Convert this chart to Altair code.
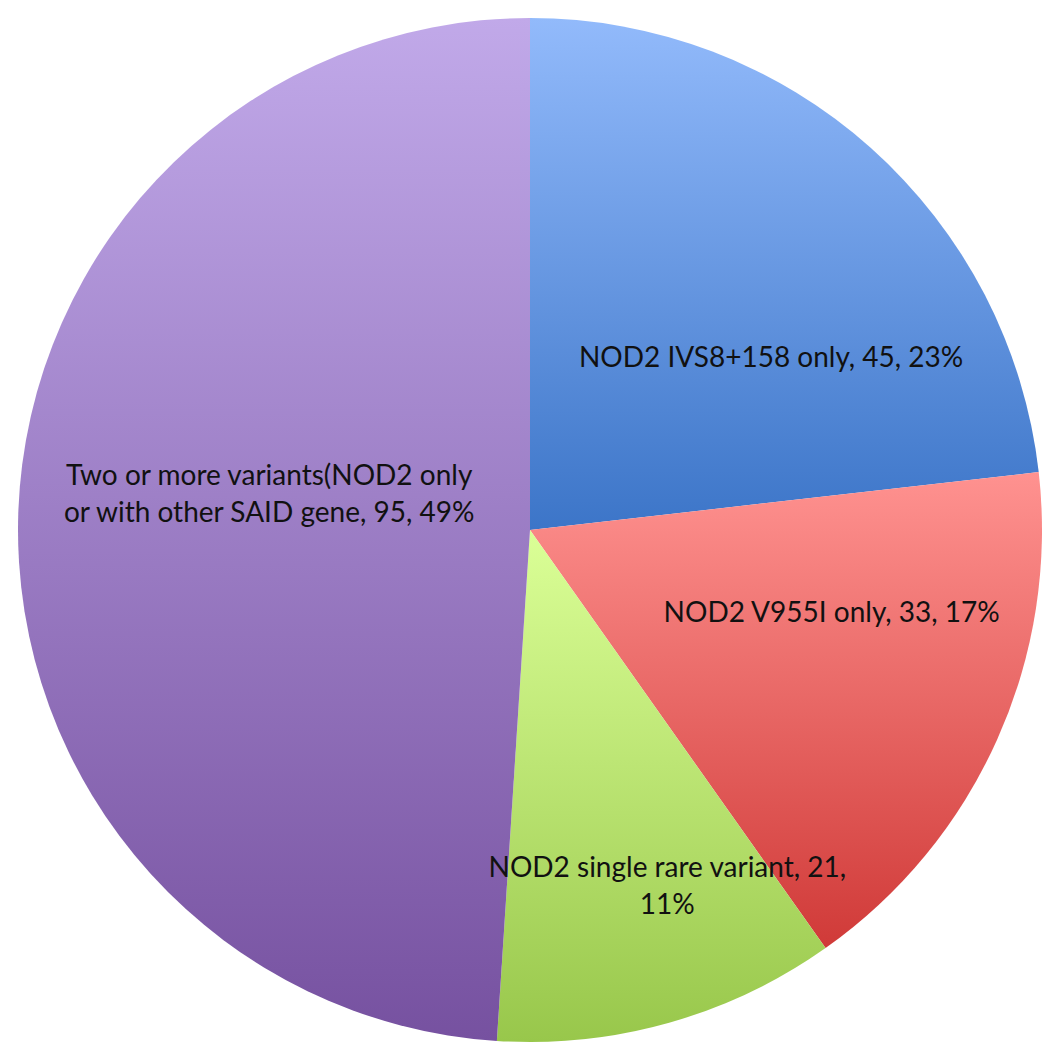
import altair as alt
import pandas as pd

categories = [
    "NOD2 IVS8+158 only, 45, 23%",
    "NOD2 V955I only, 33, 17%",
    "NOD2 single rare variant, 21,\n11%",
    "Two or more variants(NOD2 only\nor with other SAID gene, 95, 49%",
]
counts = [45, 33, 21, 95]
order = [1, 2, 3, 4]

top_colors = ["#92BAFB", "#FF9290", "#DBFF97", "#C1A9E9"]
bottom_colors = ["#3C75C8", "#D03A38", "#98C74B", "#7651A0"]

# per-label placement tweaks (radius, dx, dy)
label_pos = [(296, 44, 50), (313, 16, -44), (380, 34, -27), (281, 20, -44)]

df = pd.DataFrame({"category": categories, "count": counts, "order": order})
total = sum(counts)

base = alt.Chart(df).transform_window(
    cum="sum(count)", sort=[alt.SortField("order")], frame=[None, 0]
).transform_calculate(
    start="datum.cum - datum.count",
    mid="datum.cum - datum.count / 2",
)

theta_scale = alt.Scale(domain=[0, total], range=[0, 6.283185307179586])

arcs = []
texts = []
for i, cat in enumerate(categories):
    grad = alt.Gradient(
        gradient="linear",
        x1=0, y1=0, x2=0, y2=1,
        stops=[
            alt.GradientStop(color=top_colors[i], offset=0),
            alt.GradientStop(color=bottom_colors[i], offset=1),
        ],
    )
    sub = base.transform_filter(alt.datum.order == order[i])
    arcs.append(sub.mark_arc(outerRadius=512, color=grad, stroke=None).encode(
        theta=alt.Theta("start:Q", scale=theta_scale, stack=None),
        theta2="cum:Q",
    ))
    r, dx, dy = label_pos[i]
    texts.append(sub.mark_text(
        font="Lato", fontSize=28, color="#111111", lineBreak="\n",
        align="center", baseline="middle", dx=dx, dy=dy, lineHeight=37,
    ).encode(
        theta=alt.Theta("mid:Q", scale=theta_scale, stack=None),
        radius=alt.value(r),
        text="category:N",
    ))

chart = alt.layer(*arcs, *texts).properties(
    width=1044, height=1044, padding=0, autosize=alt.AutoSizeParams(type="none")
).configure_view(stroke=None)

chart.save("out.html", embed_options={"renderer": "svg", "actions": False})
